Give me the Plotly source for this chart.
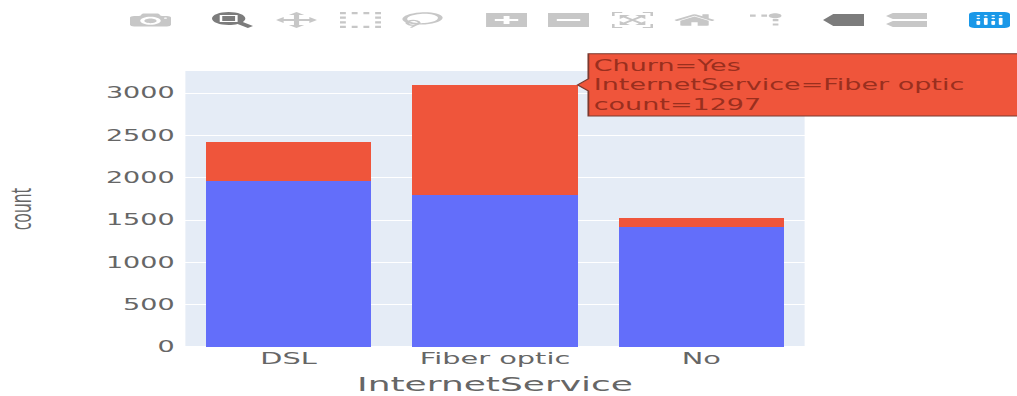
import plotly.graph_objects as go

# Customers per internet service, split by churn status
services = ["DSL", "Fiber optic", "No"]
churn_no = [1962, 1799, 1413]
churn_yes = [459, 1297, 113]
y_ticks = [0, 500, 1000, 1500, 2000, 2500, 3000]

fig = go.Figure()
for name, values, colour in [("No", churn_no, "#636EFA"), ("Yes", churn_yes, "#EF553B")]:
    fig.add_bar(
        x=services,
        y=values,
        name=name,
        marker=dict(color=colour, line_width=0),
        hovertemplate="Churn=" + name + "<br>InternetService=%{x}<br>count=%{y}<extra></extra>",
    )

fig.update_layout(
    template="plotly",
    barmode="stack",
    width=565,
    height=396,
    showlegend=False,
    hovermode="closest",
    margin=dict(l=103, r=118, t=71, b=49),
    font=dict(family="DejaVu Sans, sans-serif", size=12, color="#666"),
    hoverlabel=dict(
        font=dict(family="DejaVu Sans", size=15, color="#9a2f1e"),
        bordercolor="#7a3a30",
    ),
)
fig.update_xaxes(title_text="InternetService", title_font_size=20, tickfont_size=16, automargin=False)
fig.update_yaxes(
    title=dict(text="count", font=dict(size=16, family="Open Sans"), standoff=43),
    tickfont_size=15, automargin=False, range=[0, 3260], tickvals=y_ticks,
    ticks="outside", ticklen=2, tickcolor="rgba(0,0,0,0)",
)

# Wide page layout: stretch the plot sideways, lay the toolbar icons out across
# the top of the page, and pin the tooltip on the fiber optic churn segment
script = """
var gd = document.getElementById('{plot_id}');
document.body.style.margin = '0';
document.body.style.overflow = 'hidden';
gd.style.transformOrigin = '0 0';
gd.style.transform = 'scaleX(1.8)';

var centres = [150, 232, 296, 360, 422, 506, 568, 632, 694, 770, 843, 906, 989];
var strip = document.createElement('div');
strip.style.cssText = 'position:absolute;left:0;top:0;width:1017px;height:40px;z-index:3000;pointer-events:none';
var icons = gd.querySelectorAll('.modebar-btn svg');
icons.forEach(function (icon, i) {
  var copy = icon.cloneNode(true);
  var from = icon.querySelectorAll('path, rect, circle, polygon');
  var to = copy.querySelectorAll('path, rect, circle, polygon');
  var isLogo = i === icons.length - 1;
  from.forEach(function (el, j) {
    // The logo is a blue tile with white glyphs on top of it
    to[j].style.fill = isLogo ? (j === 0 ? '#1a98e8' : '#ffffff') : getComputedStyle(el).fill;
  });
  copy.removeAttribute('class');
  copy.setAttribute('preserveAspectRatio', 'none');
  copy.setAttribute('width', '41');
  copy.setAttribute('height', '16');
  copy.style.cssText = 'position:absolute;top:12px;width:41px;height:16px;left:' + (centres[i] - 20) + 'px';
  strip.appendChild(copy);
});
document.body.appendChild(strip);
var bar = gd.querySelector('.modebar');
if (bar) { bar.style.display = 'none'; }
Plotly.Fx.hover(gd, [{curveNumber: 1, pointNumber: 1}]);
"""

fig.write_html(
    "out.html",
    post_script=script,
    config=dict(
        displayModeBar=True,
        displaylogo=True,
        responsive=False,
        modeBarButtons=[
            ["toImage"],
            ["zoom2d", "pan2d", "select2d", "lasso2d"],
            ["zoomIn2d", "zoomOut2d", "autoScale2d", "resetScale2d"],
            ["toggleSpikelines", "hoverClosestCartesian", "hoverCompareCartesian"],
        ],
    ),
)
